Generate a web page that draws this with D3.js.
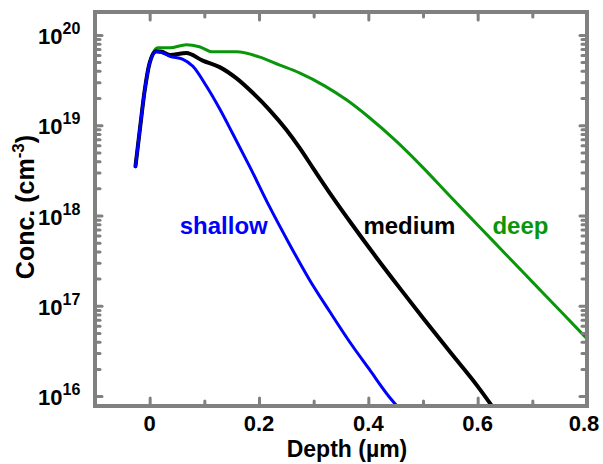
<!DOCTYPE html>
<html>
<head>
<meta charset="utf-8">
<script src="https://cdn.jsdelivr.net/npm/d3@7"></script>
<style>
  html, body { margin: 0; padding: 0; background: #fff; }
  svg { display: block; font-family: "Liberation Sans", Arial, sans-serif; font-weight: bold; }
</style>
</head>
<body>
<div id="chart"></div>
<script>
// depth in µm, concentration in cm^-3
const shallowDepth = [-0.026, -0.018, -0.009, 0.0, 0.012, 0.022, 0.037, 0.06, 0.079, 0.104, 0.128, 0.152, 0.183, 0.219, 0.256, 0.292, 0.329, 0.365, 0.402, 0.438, 0.452];
const shallowConc  = [3.5e18, 8.9e18, 2.45e19, 4.9e19, 6.5e19, 6.4e19, 5.8e19, 5.4e19, 4.5e19, 2.7e19, 1.52e19, 8.05e18, 3.48e18, 1.26e18, 4.78e17, 1.96e17, 8.7e16, 4.05e16, 1.97e16, 9.84e15, 7.8e15];

const mediumDepth = [-0.026, -0.018, -0.009, 0.0, 0.012, 0.022, 0.037, 0.067, 0.097, 0.128, 0.159, 0.188, 0.219, 0.25, 0.274, 0.30, 0.334, 0.37, 0.415, 0.46, 0.50, 0.55, 0.60, 0.625];
const mediumConc  = [3.5e18, 8.9e18, 2.45e19, 4.9e19, 6.6e19, 6.5e19, 6.0e19, 6.3e19, 5.2e19, 4.4e19, 3.3e19, 2.3e19, 1.48e19, 8.9e18, 5.64e18, 3.27e18, 1.62e18, 8.0e17, 3.41e17, 1.5e17, 7.33e16, 3.05e16, 1.28e16, 7.94e15];

const deepDepth = [-0.026, -0.018, -0.009, 0.0, 0.015, 0.037, 0.067, 0.091, 0.115, 0.159, 0.2, 0.237, 0.274, 0.32, 0.36, 0.40, 0.45, 0.50, 0.55, 0.60, 0.65, 0.70, 0.75, 0.80];
const deepConc  = [3.5e18, 8.9e18, 2.45e19, 4.9e19, 7.2e19, 7.2e19, 7.8e19, 7.4e19, 6.5e19, 6.5e19, 5.71e19, 4.66e19, 3.8e19, 2.73e19, 1.91e19, 1.24e19, 6.74e18, 3.39e18, 1.62e18, 7.85e17, 3.8e17, 1.84e17, 8.91e16, 4.32e16];

const seriesNames  = ["shallow", "medium", "deep"];
const seriesColors = ["#0000ff", "#000000", "#0a960a"];
// label anchor: [depth, conc] of left baseline point
const labelAt = [[0.055, 6.2e17], [0.391, 6.2e17], [0.627, 6.2e17]];

const xTicksMajor = [0, 0.2, 0.4, 0.6, 0.8];
const xTicksMinor = [-0.1, 0.1, 0.3, 0.5, 0.7];
const yDecades = [16, 17, 18, 19, 20];

const W = 603, H = 464;
const M = { left: 95, right: 587, top: 12, bottom: 406 };

const x = d3.scaleLinear().domain([-0.1, 0.8]).range([M.left, M.right]);
const y = d3.scaleLog().domain([Math.pow(10, 15.89), Math.pow(10, 20.254)]).range([M.bottom, M.top]);

const svg = d3.select('#chart').append('svg').attr('width', W).attr('height', H);

svg.append('clipPath').attr('id', 'plotclip').append('rect')
  .attr('x', M.left).attr('y', M.top).attr('width', M.right - M.left).attr('height', M.bottom - M.top);

const series = [
  { depth: shallowDepth, conc: shallowConc, width: 3 },
  { depth: mediumDepth, conc: mediumConc, width: 4 },
  { depth: deepDepth, conc: deepConc, width: 3 }
];

const line = d3.line().curve(d3.curveMonotoneX).x(d => x(d[0])).y(d => y(d[1]));
const gLines = svg.append('g').attr('clip-path', 'url(#plotclip)');
// deep first so shallow sits on top near the peak
[2, 1, 0].forEach(i => {
  const s = series[i];
  gLines.append('path')
    .datum(s.depth.map((d, k) => [d, s.conc[k]]))
    .attr('fill', 'none')
    .attr('stroke', seriesColors[i])
    .attr('stroke-width', s.width)
    .attr('stroke-linejoin', 'round')
    .attr('stroke-linecap', 'round')
    .attr('d', line);
});

// axes, inward ticks on all four sides
const grey = '#808080';
const yMinor = [];
yDecades.slice(0, -1).forEach(p => { for (let m = 2; m <= 9; m++) yMinor.push(m * Math.pow(10, p)); });
const yMajorVals = yDecades.map(p => Math.pow(10, p));

function styleAxis(g) {
  g.select('.domain').remove();
  g.selectAll('.tick line').attr('stroke', grey).attr('stroke-width', 3).attr('stroke-linecap', 'round');
  g.selectAll('.tick text').remove();
}

const axes = [
  [d3.axisTop(x).tickValues(xTicksMajor).tickSize(8), `translate(0,${M.bottom})`],
  [d3.axisTop(x).tickValues(xTicksMinor).tickSize(5), `translate(0,${M.bottom})`],
  [d3.axisBottom(x).tickValues(xTicksMajor).tickSize(8), `translate(0,${M.top})`],
  [d3.axisBottom(x).tickValues(xTicksMinor).tickSize(5), `translate(0,${M.top})`],
  [d3.axisRight(y).tickValues(yMajorVals).tickSize(7), `translate(${M.left},0)`],
  [d3.axisRight(y).tickValues(yMinor).tickSize(5), `translate(${M.left},0)`],
  [d3.axisLeft(y).tickValues(yMajorVals).tickSize(7), `translate(${M.right},0)`],
  [d3.axisLeft(y).tickValues(yMinor).tickSize(5), `translate(${M.right},0)`]
];
axes.forEach(([ax, tr]) => svg.append('g').attr('transform', tr).call(ax).call(styleAxis));

svg.append('rect')
  .attr('x', M.left).attr('y', M.top).attr('width', M.right - M.left).attr('height', M.bottom - M.top)
  .attr('fill', 'none').attr('stroke', grey).attr('stroke-width', 4);

// x tick labels
svg.append('g').selectAll('text').data(xTicksMajor).join('text')
  .attr('x', d => x(d) - (d === 0.8 ? 3 : 0)).attr('y', 431)
  .attr('text-anchor', 'middle').attr('font-size', 22).attr('fill', '#000')
  .text(d => d === 0 ? '0' : d3.format('.1f')(d));

// y tick labels: 10^n
const yl = svg.append('g').selectAll('text').data(yDecades).join('text')
  .attr('y', d => y(Math.pow(10, d)) + 9)
  .attr('font-size', 22).attr('fill', '#000');
yl.append('tspan').attr('x', 38).text('10');
yl.append('tspan').attr('dy', -10).attr('font-size', 16).text(d => d);

// axis titles
svg.append('text').attr('x', 347).attr('y', 457).attr('text-anchor', 'middle')
  .attr('font-size', 23).attr('fill', '#000').text('Depth (µm)');

const yt = svg.append('text').attr('transform', 'translate(34,207) rotate(-90)')
  .attr('text-anchor', 'middle').attr('font-size', 25).attr('fill', '#000');
yt.append('tspan').text('Conc. (cm');
yt.append('tspan').attr('dy', -10).attr('font-size', 17).text('-3');
yt.append('tspan').attr('dy', 10).text(')');

// curve labels
svg.append('g').selectAll('text').data(seriesNames).join('text')
  .attr('x', (d, i) => x(labelAt[i][0])).attr('y', (d, i) => y(labelAt[i][1]))
  .attr('font-size', 24).attr('fill', (d, i) => seriesColors[i])
  .text(d => d);
</script>
</body>
</html>
